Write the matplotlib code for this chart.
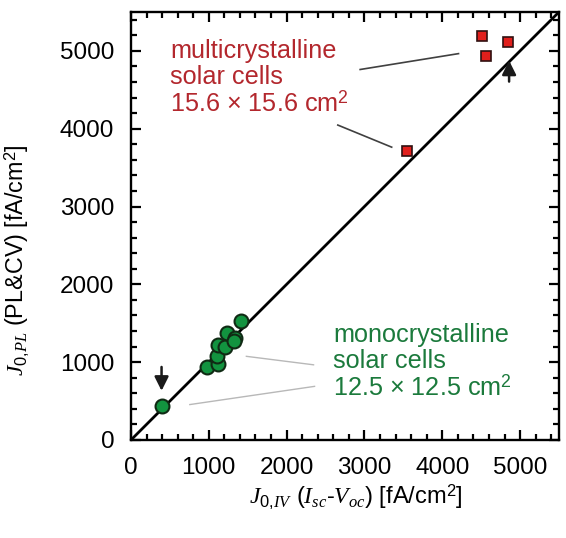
import matplotlib.pyplot as plt
from matplotlib.ticker import MultipleLocator

plt.rcParams['font.family'] = ['Liberation Sans', 'DejaVu Sans']
plt.rcParams['mathtext.fontset'] = 'custom'
plt.rcParams['mathtext.rm'] = 'Liberation Sans'
plt.rcParams['mathtext.it'] = 'Liberation Serif:italic'

# monocrystalline cells (green circles)
mono_iv = [393, 978, 1124, 1111, 1124, 1209, 1240, 1342, 1330, 1415]
mono_pl = [434, 935, 978, 1084, 1224, 1190, 1369, 1305, 1270, 1531]

# multicrystalline cells (red squares)
multi_iv = [4517, 4846, 4560, 3551]
multi_pl = [5195, 5115, 4932, 3708]

fig = plt.figure(figsize=(5.66, 5.38), dpi=100)
ax = fig.add_axes([0.2314, 0.1822, 0.7562, 0.7955])

ax.plot([0, 5500], [0, 5500], color='black', lw=2, zorder=2)

# annotation lines
ax.plot([2945, 4209], [4761, 4965], color='#404040', lw=1.2)
ax.plot([2658, 3350], [4047, 3763], color='#404040', lw=1.2)
ax.plot([1483, 2346], [1075, 966], color='#b8b8b8', lw=1)
ax.plot([756, 2359], [455, 689], color='#b8b8b8', lw=1)

ax.plot(mono_iv, mono_pl, 'o', ms=10, mfc='#12933f', mec='#102a14', mew=1.5, zorder=3)
ax.plot(multi_iv, multi_pl, 's', ms=7, mfc='#e11f1c', mec='#301010', mew=1.2, zorder=3)

# arrows
ax.annotate('', xy=(393, 596), xytext=(393, 974),
            arrowprops=dict(arrowstyle='-|>', color='#1a1a1a', lw=1.8, mutation_scale=21))
ax.annotate('', xy=(4859, 4911), xytext=(4859, 4570),
            arrowprops=dict(arrowstyle='-|>', color='#1a1a1a', lw=1.8, mutation_scale=21))

ax.text(500, 5150, 'multicrystalline\nsolar cells\n15.6 × 15.6 cm$^2$', color='#b3272d',
        fontsize=18.2, va='top', ha='left', linespacing=1.08)
ax.text(2600, 1500, 'monocrystalline\nsolar cells\n12.5 × 12.5 cm$^2$', color='#1b7a3c',
        fontsize=18.2, va='top', ha='left', linespacing=1.08)

ax.set_xlim(0, 5500)
ax.set_ylim(0, 5500)
ax.xaxis.set_major_locator(MultipleLocator(1000))
ax.xaxis.set_minor_locator(MultipleLocator(200))
ax.yaxis.set_major_locator(MultipleLocator(1000))
ax.yaxis.set_minor_locator(MultipleLocator(200))
ax.tick_params(which='both', direction='in', top=True, right=True, labelsize=17.5, width=1.6)
ax.tick_params(which='major', length=7, pad=12)
ax.tick_params(which='minor', length=4)
for s in ax.spines.values():
    s.set_linewidth(1.7)

ax.set_xlabel('$J_{0{,}IV}$ $(I_{sc}$-$V_{oc})$ [fA/cm$^2$]', fontsize=17)
ax.set_ylabel('$J_{0{,}PL}$ (PL&CV) [fA/cm$^2$]', fontsize=16.8)
ax.xaxis.set_label_coords(0.526, -0.1)
ax.yaxis.set_label_coords(-0.232, 0.42)

fig.savefig('out.png', dpi=100)
